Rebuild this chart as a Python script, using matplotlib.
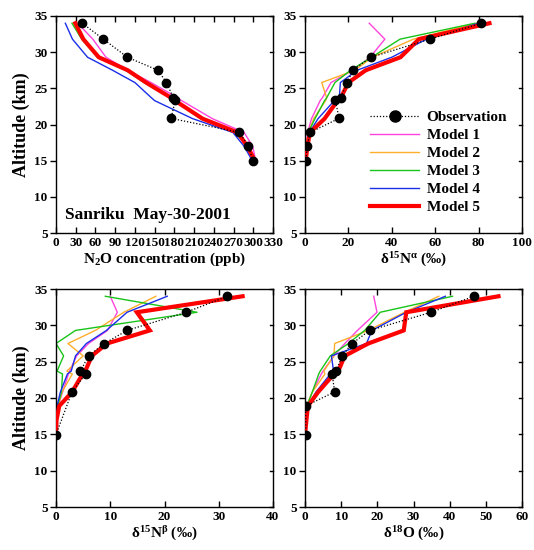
import numpy as np
import matplotlib
matplotlib.use("Agg")
import matplotlib.pyplot as plt
from matplotlib.lines import Line2D

plt.rcParams['font.family'] = ['Liberation Serif', 'DejaVu Serif']
plt.rcParams['font.weight'] = 'bold'
plt.rcParams['mathtext.fontset'] = 'custom'
plt.rcParams['mathtext.rm'] = 'Liberation Serif:bold'
plt.rcParams['mathtext.it'] = 'Liberation Serif:bold'
plt.rcParams['mathtext.bf'] = 'Liberation Serif:bold'

# ---------------- data ----------------
obs_alt = [34.0, 31.8, 29.3, 27.5, 25.8, 23.7, 23.35, 20.85, 18.9, 17.05, 14.95]
model_alt = [34.0, 31.8, 29.3, 27.5, 25.8, 23.7, 23.3, 20.8, 18.9, 17.0, 14.9]

obs_n2o = [40, 72, 108.5, 155, 168, 178.4, 181.5, 175, 279, 292.5, 299.6]
obs_d15na = [81.1, 57.6, 30.4, 22.0, 19.5, 16.4, 14.0, 15.7, 2.3, 1.1, 0.3]
obs_d15nb = [31.6, 24.0, 13.1, 8.9, 6.0, 4.5, 5.5, 2.95, np.nan, np.nan, 0.0]
obs_d18o = [46.7, 34.9, 17.9, 13.0, 10.3, 8.6, 7.5, 8.2, 0.2, np.nan, 0.2]

n2o_m1 = [33, 56, 76, 109, 144.5, 185, 191, 238, 286, 299, 304]
n2o_m2 = [27, 40, 64, 107, 135, 174, 180, 221, 275, 290, 302]
n2o_m3 = [24.3, 39, 63, 106, 134, 173, 179, 220, 274, 290, 301]
n2o_m4 = [14.2, 25, 48, 86, 120, 145, 150, 208, 269, 286, 299]
n2o_m5 = [29.4, 41.5, 65, 109, 137, 175, 181, 223, 276, 291, 303]

d15na_m1 = [29.6, 36.8, 30, 22, 12, 8, 7, 3, 1.2, 0.5, 0.2]
d15na_m2 = [79, 50, 31, 23, 7.7, 10, 9.5, 4, 1.5, 0.7, 0.2]
d15na_m3 = [78.3, 43.8, 30.7, 21, 13.8, 10, 9, 4.6, 1.5, 0.8, 0.3]
d15na_m4 = [80, 56, 40, 24, 16.3, 15.8, 13.5, 6, 2, 0.8, 0.3]
d15na_m5 = [85, 52.5, 44, 28, 20, 16.5, 15, 9, 2.3, 1.1, 0.3]

d15nb_m1 = [10.0, 11.3, 9.5, 6.0, 3.8, 2.5, 2.3, 1.2, 0.4, 0.1, 0.0]
d15nb_m2 = [18.4, 12.5, 7.25, 2.2, 5.0, 2.0, 3.0, 1.1, 0.4, 0.1, 0.0]
d15nb_m3 = [9.1, 26.0, 3.6, 0.0, 1.4, 0.2, 1.2, 1.0, 0.3, 0.1, 0.0]
d15nb_m4 = [20.5, 13.1, 9.3, 5.6, 3.6, 2.8, 2.1, 0.8, 0.2, 0.05, 0.0]
d15nb_m5 = [34.4, 14.9, 17.3, 9.4, 6.6, 5.4, 4.9, 2.95, 0.6, 0.1, 0.0]

d18o_m1 = [19.0, 19.9, 14.5, 11, 8, 5, 4.5, 2, 0.5, 0.2, 0]
d18o_m2 = [37, 27.5, 17.5, 8.2, 8.0, 5.2, 5.5, 2.0, 0.5, 0.2, 0.0]
d18o_m3 = [40.8, 20.8, 16.5, 12, 7, 4.2, 3.8, 2, 0.5, 0.2, 0]
d18o_m4 = [38.8, 28, 18.5, 17, 7.3, 7.9, 7.0, 3.0, 0.8, 0.3, 0.0]
d18o_m5 = [53.5, 28.0, 27.3, 17.5, 11.0, 9.2, 8.0, 3.6, 0.8, 0.4, 0.0]

model_names = ['Model 1', 'Model 2', 'Model 3', 'Model 4', 'Model 5']
model_colors = ['#ff44dd', '#ffae2a', '#18c418', '#1a2ee8', '#ff0000']
model_lw = [1.0, 1.0, 1.0, 1.0, 3.0]

panels = [
    dict(obs=obs_n2o, models=[n2o_m1, n2o_m2, n2o_m3, n2o_m4, n2o_m5],
         xlim=(0, 330), xticks=np.arange(0, 331, 30),
         xlabel='N$_2$O concentration (ppb)'),
    dict(obs=obs_d15na, models=[d15na_m1, d15na_m2, d15na_m3, d15na_m4, d15na_m5],
         xlim=(0, 100), xticks=np.arange(0, 101, 20),
         xlabel='δ$^{15}$N$^{α}$ (‰)'),
    dict(obs=obs_d15nb, models=[d15nb_m1, d15nb_m2, d15nb_m3, d15nb_m4, d15nb_m5],
         xlim=(0, 40), xticks=np.arange(0, 41, 10),
         xlabel='δ$^{15}$N$^{β}$ (‰)'),
    dict(obs=obs_d18o, models=[d18o_m1, d18o_m2, d18o_m3, d18o_m4, d18o_m5],
         xlim=(0, 60), xticks=np.arange(0, 61, 10),
         xlabel='δ$^{18}$O (‰)'),
]

W, H = 534, 550
fig = plt.figure(figsize=(W / 100, H / 100), dpi=100)

# axes boxes in pixels: (left, top, width, height)
boxes = [(56, 16, 217, 217), (305, 16, 217, 217),
         (56, 289, 217, 218), (305, 289, 217, 218)]

axes = []
for i, (p, b) in enumerate(zip(panels, boxes)):
    l, t, w, h = b
    ax = fig.add_axes([l / W, (H - t - h) / H, w / W, h / H])
    axes.append(ax)
    oa = np.array(obs_alt)
    ov = np.array(p['obs'], dtype=float)
    m = ~np.isnan(ov)
    for vals, c, lw in zip(p['models'], model_colors, model_lw):
        if lw < 2:
            ax.plot(vals, model_alt, color=c, lw=lw, zorder=2)
    ax.plot(p['models'][4], model_alt, color=model_colors[4], lw=3.0, zorder=3,
            solid_joinstyle='miter')
    ax.plot(ov[m], oa[m], color='black', ls=(0, (1, 1.5)), lw=0.9,
            marker='o', ms=6, zorder=4)
    ax.set_xlim(*p['xlim'])
    ax.set_ylim(5, 35)
    ax.set_xticks(p['xticks'])
    ax.set_yticks(np.arange(5, 36, 5))
    ax.tick_params(axis='x', which='both', direction='in', top=True, bottom=True,
                   length=4, width=1, labelsize=9.5, pad=3)
    ax.tick_params(axis='y', which='both', direction='out', left=True, right=False,
                   length=4, width=1, labelsize=9.5, pad=2)
    # inward ticks on right
    for yt in np.arange(5, 36, 5):
        ax.plot([1, 0.985], [yt, yt], transform=ax.get_yaxis_transform(),
                color='black', lw=1, clip_on=False)
    for lab in ax.get_xticklabels() + ax.get_yticklabels():
        lab.set_fontweight('bold')
    for s in ax.spines.values():
        s.set_linewidth(1.0)
    ax.set_xlabel(p['xlabel'], fontsize=11, fontweight='bold', labelpad=1)
    if i in (0, 2):
        ax.set_ylabel('Altitude (km)', fontsize=13, fontweight='bold', labelpad=3)

axes[0].text(0.04, 0.085, 'Sanriku  May-30-2001', transform=axes[0].transAxes,
             fontsize=12.5, fontweight='bold', va='center', ha='left')

handles = [Line2D([], [], color='black', ls=(0, (1, 1.5)), lw=0.9, marker='o', ms=8)]
for c, lw in zip(model_colors, model_lw):
    handles.append(Line2D([], [], color=c, lw=lw))
leg = axes[1].legend(handles, ['Observation'] + model_names, loc='upper left',
                     bbox_to_anchor=(0.30, 0.565), frameon=False, borderpad=0,
                     borderaxespad=0, handlelength=3.2, handletextpad=0.5,
                     labelspacing=0.28, prop={'family': 'Liberation Serif',
                                              'weight': 'bold', 'size': 11})

fig.savefig('out.png', dpi=100)
